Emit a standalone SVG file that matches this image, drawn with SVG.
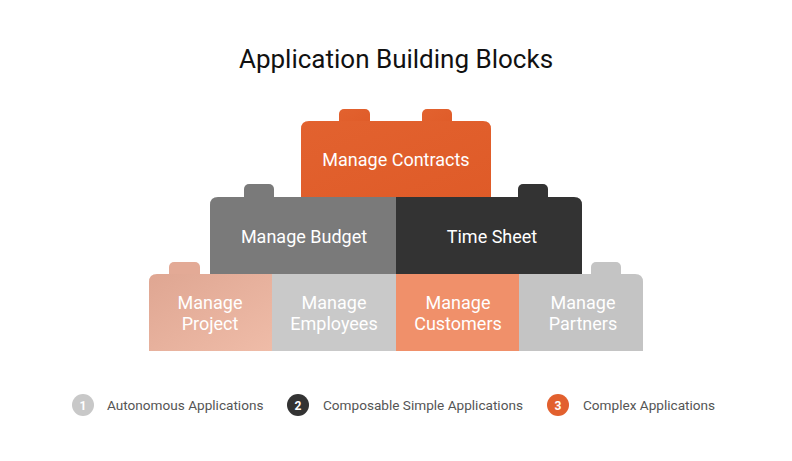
<svg xmlns="http://www.w3.org/2000/svg" width="792" height="461" viewBox="0 0 792 461">
<style>
text{font-family:Roboto,"Liberation Sans",sans-serif}
.t{fill:#ffffff;font-size:18px;text-anchor:middle}
.title{fill:#111111;font-size:26px;text-anchor:middle}
.lg{fill:#555555;font-size:13.6px}
.num{fill:#ffffff;font-size:12px;font-weight:bold;text-anchor:middle}
</style>
<defs>
<linearGradient id="gOr" x1="0" y1="0" x2="1" y2="1"><stop offset="0" stop-color="#E2622F"/><stop offset="1" stop-color="#DF5B28"/></linearGradient>
<linearGradient id="gPr" x1="0" y1="0" x2="1" y2="1"><stop offset="0" stop-color="#DFA692"/><stop offset="1" stop-color="#EFBCA8"/></linearGradient>
</defs>
<rect width="792" height="461" fill="#ffffff"/>
<text class="title" x="396" y="68">Application Building Blocks</text>

<g id="manage-contracts">
<rect x="339" y="109" width="31" height="20" rx="5" fill="url(#gOr)"/>
<rect x="422" y="109" width="30" height="20" rx="5" fill="url(#gOr)"/>
<path d="M301,197 V129 Q301,121 309,121 H483 Q491,121 491,129 V197 Z" fill="url(#gOr)"/>
<text class="t" x="396" y="166">Manage Contracts</text>
</g>

<g id="manage-budget">
<rect x="244" y="184" width="30" height="20" rx="5" fill="#7A7A7A"/>
<path d="M210,274 V205 Q210,197 218,197 H396 V274 Z" fill="#7A7A7A"/>
<text class="t" x="304" y="243">Manage Budget</text>
</g>

<g id="time-sheet">
<rect x="518" y="184" width="30" height="20" rx="5" fill="#333333"/>
<path d="M396,274 V197 H574 Q582,197 582,205 V274 Z" fill="#333333"/>
<text class="t" x="492" y="243">Time Sheet</text>
</g>

<g id="manage-project">
<rect x="169" y="262" width="31" height="20" rx="5" fill="#E3AA96"/>
<path d="M149,351 V282 Q149,274 157,274 H272 V351 Z" fill="url(#gPr)"/>
<text class="t" x="210" y="309">Manage</text>
<text class="t" x="210" y="330">Project</text>
</g>

<g id="manage-employees">
<rect x="272" y="274" width="124" height="77" fill="#C9C9C9"/>
<text class="t" x="334" y="309">Manage</text>
<text class="t" x="334" y="330">Employees</text>
</g>

<g id="manage-customers">
<rect x="396" y="274" width="123" height="77" fill="#F0906A"/>
<text class="t" x="458" y="309">Manage</text>
<text class="t" x="458" y="330">Customers</text>
</g>

<g id="manage-partners">
<rect x="591" y="262" width="30" height="20" rx="5" fill="#C4C4C4"/>
<path d="M519,351 V274 H635 Q643,274 643,282 V351 Z" fill="#C4C4C4"/>
<text class="t" x="583" y="309">Manage</text>
<text class="t" x="583" y="330">Partners</text>
</g>

<g id="connectors"></g>

<g id="legend">
<circle cx="83" cy="405" r="11" fill="#C8C8C8"/>
<text class="num" x="83" y="409.5">1</text>
<text class="lg" x="107" y="410">Autonomous Applications</text>
<circle cx="298" cy="405" r="11" fill="#333333"/>
<text class="num" x="298" y="409.5">2</text>
<text class="lg" x="323" y="410">Composable Simple Applications</text>
<circle cx="558" cy="405" r="11" fill="#E2602E"/>
<text class="num" x="558" y="409.5">3</text>
<text class="lg" x="583" y="410">Complex Applications</text>
</g>
</svg>
